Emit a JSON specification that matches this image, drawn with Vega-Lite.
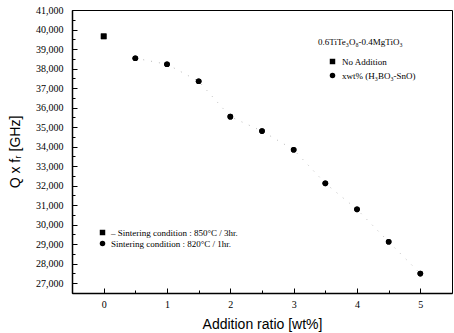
{
  "$schema": "https://vega.github.io/schema/vega-lite/v6.json",
  "width": 380,
  "height": 283,
  "autosize": "none",
  "padding": {"left": 72, "top": 10, "right": 2, "bottom": 40},
  "background": "white",
  "config": {
    "view": {"stroke": "black", "strokeWidth": 1},
    "axis": {
      "domainColor": "black", "domainWidth": 1.5, "tickColor": "black", "tickWidth": 1,
      "labelFont": "Liberation Serif", "labelFontSize": 10, "labelColor": "black",
      "titleFont": "Liberation Sans", "titleFontSize": 14, "titleFontWeight": "normal", "titleColor": "black",
      "grid": false
    },
    "legend": {
      "labelFont": "Liberation Serif", "labelFontSize": 9, "labelColor": "black",
      "titleFont": "Liberation Serif", "titleFontSize": 9, "titleFontWeight": "normal", "titleColor": "black"
    }
  },
  "data": {"values": [
    {"x": 0, "qf": 39650, "addition": "No Addition", "sintering": "– Sintering condition : 850°C / 3hr."},
    {"x": 0.5, "qf": 38530, "addition": "xwt% (H₃BO₃-SnO)", "sintering": "Sintering condition : 820°C / 1hr."},
    {"x": 1, "qf": 38220, "addition": "xwt% (H₃BO₃-SnO)", "sintering": "Sintering condition : 820°C / 1hr."},
    {"x": 1.5, "qf": 37350, "addition": "xwt% (H₃BO₃-SnO)", "sintering": "Sintering condition : 820°C / 1hr."},
    {"x": 2, "qf": 35535, "addition": "xwt% (H₃BO₃-SnO)", "sintering": "Sintering condition : 820°C / 1hr."},
    {"x": 2.5, "qf": 34795, "addition": "xwt% (H₃BO₃-SnO)", "sintering": "Sintering condition : 820°C / 1hr."},
    {"x": 3, "qf": 33840, "addition": "xwt% (H₃BO₃-SnO)", "sintering": "Sintering condition : 820°C / 1hr."},
    {"x": 3.5, "qf": 32120, "addition": "xwt% (H₃BO₃-SnO)", "sintering": "Sintering condition : 820°C / 1hr."},
    {"x": 4, "qf": 30785, "addition": "xwt% (H₃BO₃-SnO)", "sintering": "Sintering condition : 820°C / 1hr."},
    {"x": 4.5, "qf": 29125, "addition": "xwt% (H₃BO₃-SnO)", "sintering": "Sintering condition : 820°C / 1hr."},
    {"x": 5, "qf": 27495, "addition": "xwt% (H₃BO₃-SnO)", "sintering": "Sintering condition : 820°C / 1hr."}
  ]},
  "encoding": {
    "x": {
      "field": "x", "type": "quantitative",
      "scale": {"domain": [-0.5, 5.5], "nice": false, "zero": false},
      "axis": {
        "title": "Addition ratio [wt%]",
        "values": [0, 0.5, 1, 1.5, 2, 2.5, 3, 3.5, 4, 4.5, 5],
        "labelExpr": "datum.value % 1 == 0 ? format(datum.value, 'd') : ''",
        "tickSize": {"condition": {"test": "datum.value % 1 == 0", "value": -5}, "value": -3},
        "labelPadding": 11,
        "titlePadding": 8
      }
    },
    "y": {
      "field": "qf", "type": "quantitative",
      "scale": {"domain": [26500, 41000], "nice": false, "zero": false},
      "axis": {
        "title": "Q x fᵣ [GHz]",
        "values": [26500, 27000, 27500, 28000, 28500, 29000, 29500, 30000, 30500, 31000, 31500, 32000, 32500, 33000, 33500, 34000, 34500, 35000, 35500, 36000, 36500, 37000, 37500, 38000, 38500, 39000, 39500, 40000, 40500, 41000],
        "labelExpr": "datum.value % 1000 == 0 ? format(datum.value, ',') : ''",
        "tickSize": {"condition": {"test": "datum.value % 1000 == 0", "value": -5}, "value": -3},
        "labelPadding": 14,
        "titlePadding": 13
      }
    }
  },
  "layer": [
    {
      "transform": [{"filter": "datum.x > 0"}],
      "mark": {"type": "line", "color": "#bbbbbb", "strokeWidth": 1, "strokeDash": [1, 7]}
    },
    {
      "mark": {"type": "point", "filled": true, "color": "black", "opacity": 1, "size": 32},
      "encoding": {
        "shape": {
          "field": "addition", "type": "nominal",
          "scale": {"domain": ["No Addition", "xwt% (H₃BO₃-SnO)"], "range": ["square", "circle"]},
          "legend": {
            "title": "0.6TiTe₃O₈-0.4MgTiO₃",
            "orient": "none", "legendX": 246, "legendY": 28,
            "padding": 0, "symbolOffset": 10, "titlePadding": 10, "rowPadding": 1,
            "symbolSize": 30, "symbolFillColor": "black", "symbolStrokeColor": "black", "labelOffset": 5
          }
        }
      }
    },
    {
      "mark": {"type": "point", "filled": true, "color": "black", "opacity": 1, "size": 32},
      "encoding": {
        "shape": {
          "field": "sintering", "type": "nominal",
          "scale": {"domain": ["– Sintering condition : 850°C / 3hr.", "Sintering condition : 820°C / 1hr."], "range": ["square", "circle"]},
          "legend": {
            "title": null,
            "orient": "none", "legendX": 26, "legendY": 218,
            "padding": 0, "rowPadding": -2,
            "symbolSize": 30, "symbolFillColor": "black", "symbolStrokeColor": "black", "labelOffset": 4
          }
        }
      }
    }
  ],
  "resolve": {"scale": {"shape": "independent"}}
}
